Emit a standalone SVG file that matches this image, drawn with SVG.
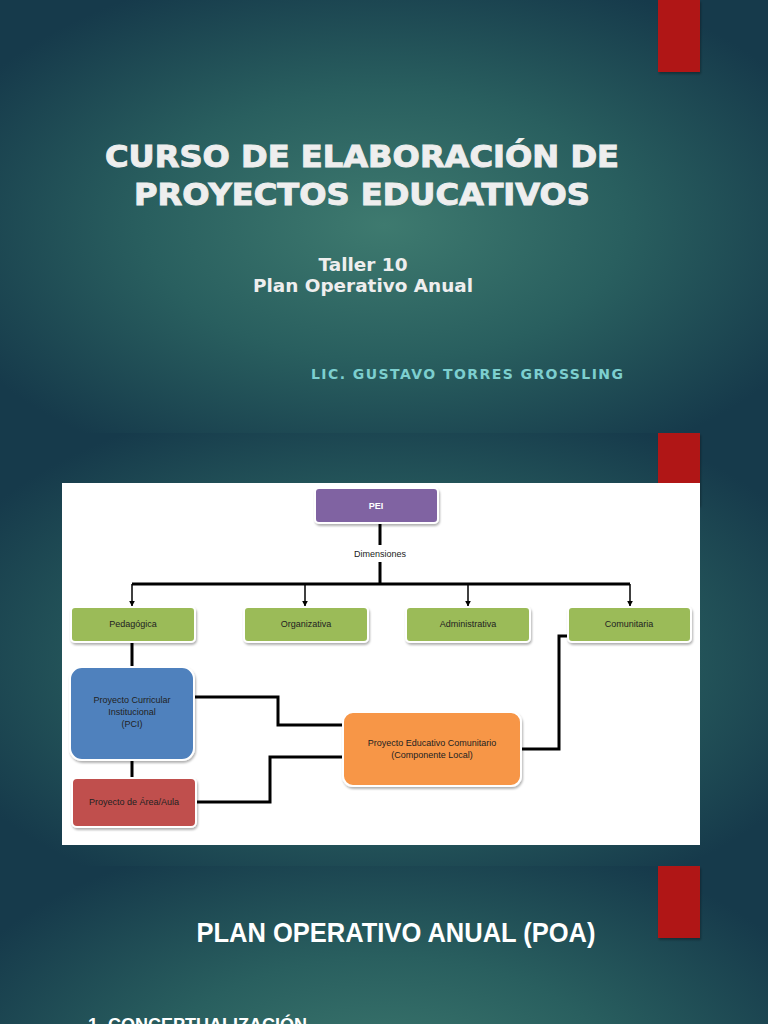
<svg xmlns="http://www.w3.org/2000/svg" width="768" height="1024" viewBox="0 0 768 1024">
<defs>
<radialGradient id="bg" cx="0.5" cy="0.52" r="0.62">
<stop offset="0" stop-color="#3e7a6f"/>
<stop offset="0.5" stop-color="#295f5f"/>
<stop offset="1" stop-color="#163a4b"/>
</radialGradient>
<filter id="sh" x="-10%" y="-10%" width="130%" height="140%">
<feDropShadow dx="1" dy="2" stdDeviation="1.2" flood-color="#000" flood-opacity="0.3"/>
</filter>
<marker id="ah" viewBox="0 0 10 10" refX="9" refY="5" markerWidth="6" markerHeight="6" orient="auto" markerUnits="userSpaceOnUse">
<path d="M0,0 L10,5 L0,10 z" fill="#000"/>
</marker>
<style>
.t{font-family:"DejaVu Sans",Verdana,sans-serif;fill:#eeeeee;font-weight:bold;text-anchor:middle}
.h{stroke:#eeeeee;stroke-width:1;paint-order:stroke}
.s{font-family:"Liberation Sans",Arial,sans-serif;fill:#fff;font-weight:bold;text-anchor:middle}
.n{font-family:"Liberation Sans",Arial,sans-serif;font-size:9px;text-anchor:middle;fill:#222}
.box{stroke:#fff;stroke-width:2;filter:url(#sh)}
.c{fill:none;stroke:#000;stroke-width:3}
.a{fill:none;stroke:#000;stroke-width:1.5;marker-end:url(#ah)}
.red{fill:#b01818;filter:url(#sh)}
</style>
</defs>
<rect x="0" y="0" width="768" height="433" fill="url(#bg)"/>
<rect x="0" y="433" width="768" height="433" fill="url(#bg)"/>
<rect x="0" y="866" width="768" height="433" fill="url(#bg)"/>
<rect class="red" x="658" y="0" width="42" height="72"/>
<rect class="red" x="658" y="433" width="42" height="72"/>
<rect class="red" x="658" y="866" width="42" height="72"/>
<text class="t h" x="362" y="167" font-size="30" textLength="514" lengthAdjust="spacingAndGlyphs">CURSO DE ELABORACIÓN DE</text>
<text class="t h" x="362" y="205" font-size="30" textLength="456" lengthAdjust="spacingAndGlyphs">PROYECTOS EDUCATIVOS</text>
<text class="t" x="363" y="271" font-size="17" textLength="89" lengthAdjust="spacingAndGlyphs">Taller 10</text>
<text class="t" x="363" y="292" font-size="17" textLength="220" lengthAdjust="spacingAndGlyphs">Plan Operativo Anual</text>
<text class="t" x="467" y="379" font-size="14" style="fill:#7dcfcf" textLength="312" lengthAdjust="spacing">LIC. GUSTAVO TORRES GROSSLING</text>
<rect x="62" y="483" width="638" height="362" fill="#fff"/>
<g id="connectors">
<path class="c" d="M380,522 V545 M380,562 V584 M132,584 H630" />
<path class="a" d="M132,584 V606"/>
<path class="a" d="M305,584 V606"/>
<path class="a" d="M468,584 V606"/>
<path class="a" d="M630,584 V606"/>
<path class="c" d="M132,642 V667 M132,760 V778"/>
<path class="c" stroke-width="2.5" d="M194,697 H278 V725 H343"/>
<path class="c" stroke-width="2.5" d="M197,802 H270 V757 H343"/>
<path class="c" d="M521,749 H559 V636 H568"/>
<text class="n" x="380" y="557" fill="#333">Dimensiones</text>
</g>
<g id="pei"><rect class="box" x="315" y="488" width="123" height="35" rx="4" fill="#8064a2"/><text class="n" x="376" y="509" style="fill:#fff;font-weight:bold">PEI</text></g>
<g id="pedagogica"><rect class="box" x="71" y="607" width="124" height="35" rx="4" fill="#9bbb59"/><text class="n" x="133" y="627">Pedagógica</text></g>
<g id="organizativa"><rect class="box" x="244" y="607" width="124" height="35" rx="4" fill="#9bbb59"/><text class="n" x="306" y="627">Organizativa</text></g>
<g id="administrativa"><rect class="box" x="406" y="607" width="124" height="35" rx="4" fill="#9bbb59"/><text class="n" x="468" y="627">Administrativa</text></g>
<g id="comunitaria"><rect class="box" x="568" y="607" width="123" height="35" rx="4" fill="#9bbb59"/><text class="n" x="629" y="627">Comunitaria</text></g>
<g id="pci"><rect class="box" x="70" y="667" width="124" height="93" rx="12" fill="#4f81bd"/><text class="n" x="132" y="703">Proyecto Curricular</text><text class="n" x="132" y="715">Institucional</text><text class="n" x="132" y="727">(PCI)</text></g>
<g id="area"><rect class="box" x="72" y="778" width="124" height="49" rx="5" fill="#c0504d"/><text class="n" x="134" y="805">Proyecto de Área/Aula</text></g>
<g id="pec"><rect class="box" x="343" y="712" width="178" height="74" rx="10" fill="#f79646"/><text class="n" x="432" y="746">Proyecto Educativo Comunitario</text><text class="n" x="432" y="758">(Componente Local)</text></g>
<text class="s" x="396" y="942" font-size="28" textLength="399" lengthAdjust="spacingAndGlyphs">PLAN OPERATIVO ANUAL (POA)</text>
<text class="s" x="88" y="1031" font-size="18" style="text-anchor:start">1.  CONCEPTUALIZACIÓN</text>
</svg>
